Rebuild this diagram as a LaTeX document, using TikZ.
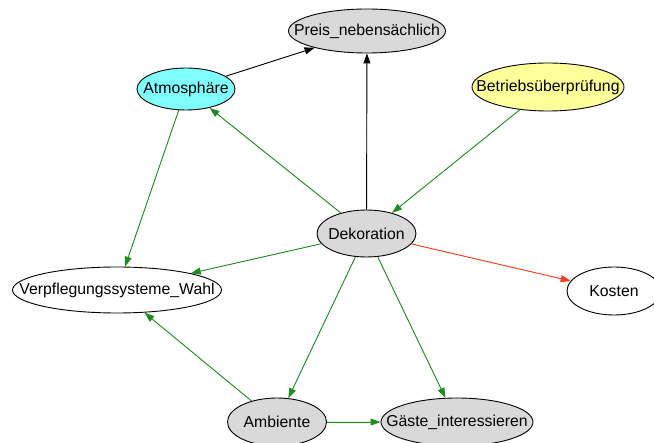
\documentclass[tikz,border=0pt]{standalone}
\usepackage{fontspec}
\setmainfont{Liberation Sans}
\usetikzlibrary{shapes.geometric,arrows.meta}
\definecolor{nodegray}{HTML}{D9D9D9}
\definecolor{nodecyan}{HTML}{80FFFF}
\definecolor{nodeyellow}{HTML}{FFFF99}
\definecolor{edgegreen}{HTML}{228B22}
\definecolor{edgered}{HTML}{FF3A1A}
% zero-width label box, so the ellipse size is set only by minimum width/height
\newcommand{\lbl}[1]{\makebox[0pt]{#1}}
\tikzset{
  var/.style={ellipse, draw=black, line width=0.9pt, inner sep=0pt,
    font=\fontsize{15.8}{17}\selectfont},
  link/.style={line width=0.9pt, -{Triangle[length=10pt,width=7pt]}},
  poslink/.style={link, draw=edgegreen, fill=edgegreen},
  neglink/.style={link, draw=edgered, fill=edgered},
  neulink/.style={link, draw=black, fill=black},
}
\begin{document}
\begin{tikzpicture}[x=1pt,y=-1pt]
\useasboundingbox (0,0) rectangle (654,443);
\node[var, fill=nodegray, minimum width=157pt, minimum height=44pt] (preis) at (367,31) {\lbl{Preis\_nebensächlich}};
\node[var, fill=nodecyan, minimum width=98pt, minimum height=42pt] (atmo) at (186,89) {\lbl{Atmosphäre}};
\node[var, fill=nodeyellow, minimum width=152pt, minimum height=48pt] (betrieb) at (548,87) {\lbl{Betriebsüberprüfung}};
\node[var, fill=nodegray, minimum width=99pt, minimum height=47pt] (deko) at (366.5,233.5) {\lbl{Dekoration}};
\node[var, fill=white, minimum width=209pt, minimum height=46pt] (verpf) at (117,290) {\lbl{Verpflegungssysteme\_Wahl}};
\node[var, fill=white, minimum width=94pt, minimum height=48pt] (kosten) at (614,291) {\lbl{Kosten}};
\node[var, fill=nodegray, minimum width=99pt, minimum height=48pt] (amb) at (277,422) {\lbl{Ambiente}};
\node[var, fill=nodegray, minimum width=152pt, minimum height=48pt] (gaeste) at (457,422) {\lbl{Gäste\_interessieren}};

\draw[neulink] (atmo) -- (preis);
\draw[neulink] (deko) -- (preis);
\draw[poslink] (deko) -- (atmo);
\draw[poslink] (betrieb) -- (deko);
\draw[poslink] (atmo) -- (verpf);
\draw[poslink] (deko) -- (verpf);
\draw[neglink] (deko) -- (kosten);
\draw[poslink] (deko) -- (amb);
\draw[poslink] (deko) -- (gaeste);
\draw[poslink] (amb) -- (verpf);
\draw[poslink] (amb) -- (gaeste);
\end{tikzpicture}
\end{document}
